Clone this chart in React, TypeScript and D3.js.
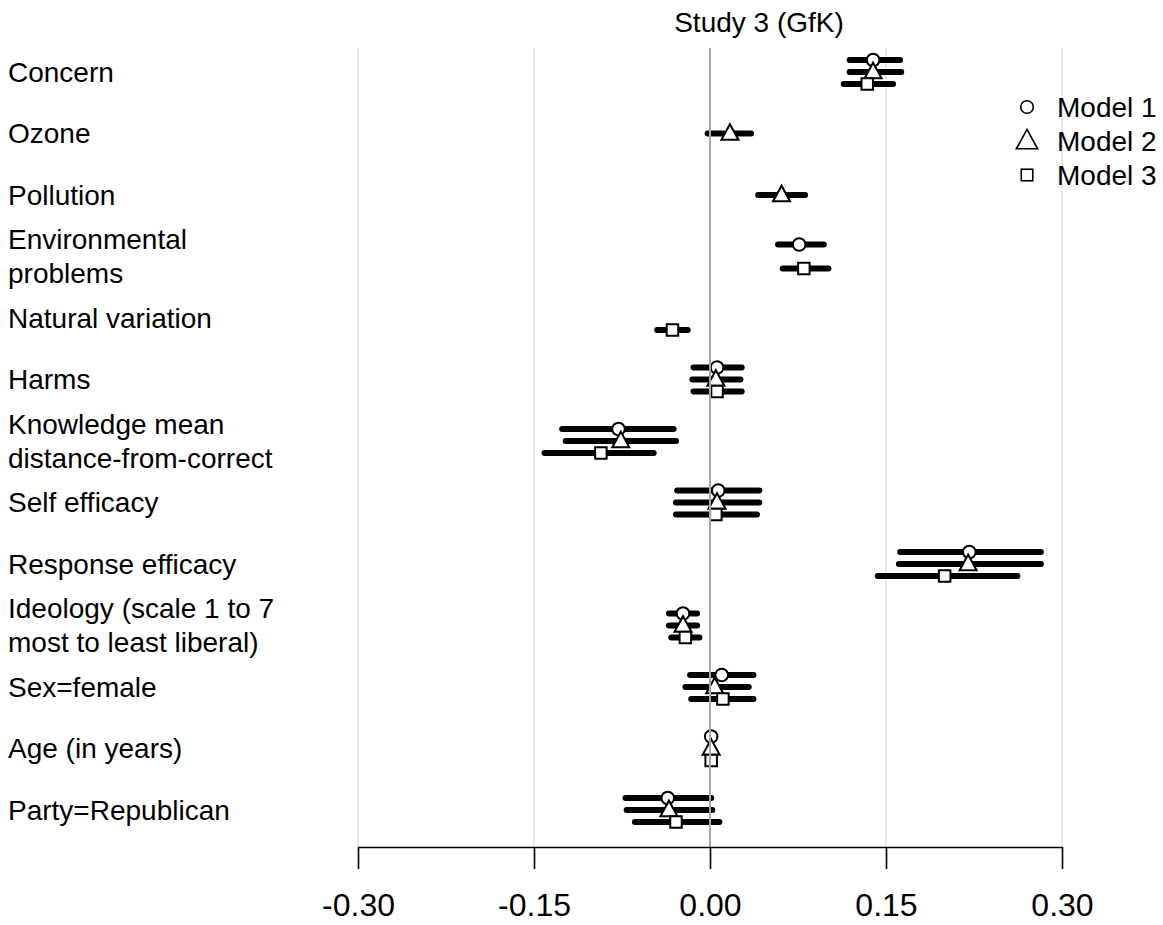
import { useRef, useEffect } from 'react'
import * as d3 from 'd3'

// [estimate, lower, upper]; null where the model has no such term
type Est = [number, number, number] | null

const categories = [
  'Concern', 'Ozone', 'Pollution', 'Environmental problems', 'Natural variation',
  'Harms', 'Knowledge mean distance-from-correct', 'Self efficacy', 'Response efficacy',
  'Ideology', 'Sex=female', 'Age (in years)', 'Party=Republican'
]

const labelLines = [
  ['Concern'], ['Ozone'], ['Pollution'], ['Environmental', 'problems'], ['Natural variation'],
  ['Harms'], ['Knowledge mean', 'distance-from-correct'], ['Self efficacy'], ['Response efficacy'],
  ['Ideology (scale 1 to 7', 'most to least liberal)'], ['Sex=female'], ['Age (in years)'], ['Party=Republican']
]

const models = ['Model 1', 'Model 2', 'Model 3']

const model1: Est[] = [
  [0.139, 0.119, 0.162], null, null, [0.076, 0.058, 0.097], null,
  [0.006, -0.014, 0.027], [-0.078, -0.126, -0.031], [0.007, -0.028, 0.042], [0.221, 0.162, 0.282],
  [-0.023, -0.035, -0.011], [0.010, -0.017, 0.037], [0.001, 0.000, 0.002], [-0.036, -0.072, 0.001]
]

const model2: Est[] = [
  [0.139, 0.119, 0.163], [0.017, -0.002, 0.035], [0.061, 0.041, 0.081], null, null,
  [0.005, -0.015, 0.026], [-0.076, -0.123, -0.029], [0.006, -0.029, 0.042], [0.220, 0.161, 0.282],
  [-0.023, -0.035, -0.011], [0.004, -0.021, 0.033], [0.001, 0.000, 0.002], [-0.035, -0.071, 0.002]
]

const model3: Est[] = [
  [0.134, 0.114, 0.156], null, null, [0.080, 0.062, 0.101], [-0.032, -0.045, -0.019],
  [0.006, -0.014, 0.027], [-0.093, -0.141, -0.048], [0.005, -0.029, 0.040], [0.200, 0.143, 0.262],
  [-0.021, -0.033, -0.009], [0.011, -0.016, 0.037], [0.001, 0.000, 0.002], [-0.029, -0.064, 0.008]
]

const tickValues = [-0.3, -0.15, 0, 0.15, 0.3]
const tickLabels = ['-0.30', '-0.15', '0.00', '0.15', '0.30']

const FONT = '"Liberation Sans", Arial, Helvetica, sans-serif'

function drawMarker(
  g: d3.Selection<SVGGElement, unknown, null, undefined>,
  model: string, cx: number, cy: number, scale = 1, sw = 2
) {
  if (model === 'Model 1') {
    g.append('circle')
      .attr('cx', cx).attr('cy', cy).attr('r', 6.3 * scale)
      .attr('fill', 'white').attr('stroke', 'black').attr('stroke-width', sw)
  } else if (model === 'Model 2') {
    const w = 17 * scale, h = 15.5 * scale
    g.append('path')
      .attr('d', `M${cx},${cy - h * 0.6} L${cx + w / 2},${cy + h * 0.4} L${cx - w / 2},${cy + h * 0.4} Z`)
      .attr('fill', 'white').attr('stroke', 'black').attr('stroke-width', sw)
      .attr('stroke-linejoin', 'miter')
  } else {
    const s = 11.5 * scale
    g.append('rect')
      .attr('x', cx - s / 2).attr('y', cy - s / 2).attr('width', s).attr('height', s)
      .attr('fill', 'white').attr('stroke', 'black').attr('stroke-width', sw)
  }
}

function CoefPlot() {
  const containerRef = useRef<HTMLDivElement>(null)

  useEffect(() => {
    if (!containerRef.current) return
    document.body.style.margin = '0'

    const container = containerRef.current
    container.innerHTML = ''

    const width = 1163
    const height = 925
    const plotTop = 48
    const axisY = 847

    const svg = d3.select(container)
      .append('svg')
      .attr('width', width)
      .attr('height', height)
      .style('display', 'block')
      .style('font-family', FONT)

    const x = d3.scaleLinear().domain([-0.3, 0.3]).range([358, 1062])
    const y = d3.scalePoint<string>().domain(categories).range([72, 810])
    const offset = d3.scalePoint<string>().domain(models).range([-12, 12])

    // gridlines
    svg.append('g')
      .selectAll('line')
      .data(tickValues.filter(d => d !== 0))
      .enter()
      .append('line')
      .attr('x1', d => x(d)).attr('x2', d => x(d))
      .attr('y1', plotTop).attr('y2', axisY)
      .attr('stroke', '#e3e3e3')
      .attr('stroke-width', 1.5)

    // title
    svg.append('text')
      .attr('x', 759)
      .attr('y', 32)
      .attr('text-anchor', 'middle')
      .attr('font-size', 28)
      .text('Study 3 (GfK)')

    // category labels
    const labels = svg.append('g')
    categories.forEach((c, i) => {
      const lines = labelLines[i]
      const cy = y(c)!
      lines.forEach((t, j) => {
        const dy = lines.length === 1 ? 0 : (j === 0 ? -17 : 17)
        labels.append('text')
          .attr('x', 8)
          .attr('y', cy + dy)
          .attr('dy', '0.35em')
          .attr('font-size', 28)
          .text(t)
      })
    })

    // legend (drawn under the plot marks, gridline runs behind it)
    const legend = svg.append('g')
    models.forEach((mdl, i) => {
      const ly = 107 + i * 34
      drawMarker(legend, mdl, 1027, ly, i === 1 ? 1.25 : 1, 1.6)
      legend.append('text')
        .attr('x', 1057)
        .attr('y', ly)
        .attr('dy', '0.35em')
        .attr('font-size', 28)
        .text(mdl)
    })

    // estimates, drawn model by model
    const series = [model1, model2, model3]
    const marks = svg.append('g')
    series.forEach((vals, m) => {
      const model = models[m]
      vals.forEach((v, i) => {
        if (!v) return
        const cy = y(categories[i])! + offset(model)!
        marks.append('line')
          .attr('x1', x(v[1])).attr('x2', x(v[2]))
          .attr('y1', cy).attr('y2', cy)
          .attr('stroke', 'black')
          .attr('stroke-width', 6)
          .attr('stroke-linecap', 'round')
      })
      vals.forEach((v, i) => {
        if (!v) return
        const cy = y(categories[i])! + offset(model)!
        drawMarker(marks, model, x(v[0]), cy)
      })
    })

    // zero line
    svg.append('line')
      .attr('x1', x(0)).attr('x2', x(0))
      .attr('y1', plotTop).attr('y2', axisY)
      .attr('stroke', '#a6a6a6')
      .attr('stroke-width', 2)

    // x axis
    const axis = svg.append('g')
      .attr('transform', `translate(0,${axisY})`)
      .call(
        d3.axisBottom(x)
          .tickValues(tickValues)
          .tickSize(22)
          .tickSizeOuter(0)
          .tickPadding(24)
          .tickFormat((_d, i) => tickLabels[i])
      )
    axis.select('.domain').attr('stroke', 'black').attr('stroke-width', 1.6)
    axis.selectAll('.tick line').attr('stroke', 'black').attr('stroke-width', 1.6)
    axis.selectAll('.tick text')
      .attr('fill', 'black')
      .attr('font-size', 32)
      .attr('font-family', FONT)
  }, [])

  return <div ref={containerRef} />
}

export default function App() {
  return <CoefPlot />
}
